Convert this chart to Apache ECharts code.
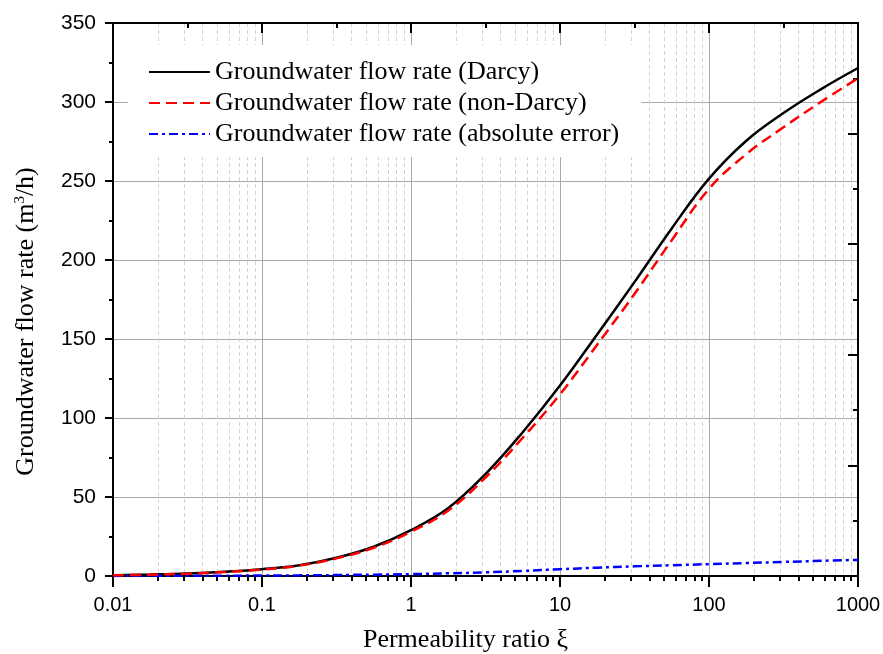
<!DOCTYPE html>
<html>
<head>
<meta charset="utf-8">
<script src="https://cdn.jsdelivr.net/npm/echarts@6/dist/echarts.min.js"></script>
<style>html,body{margin:0;padding:0;background:#fff}#c{width:883px;height:654px}</style>
</head>
<body>
<div id="c"></div>
<script>
// Permeability ratio (x, log scale), quarter-decade samples
const xVals = [0.01,0.0178,0.0316,0.0562,0.1,0.178,0.316,0.562,1,1.78,3.16,5.62,10,17.8,31.6,56.2,100,178,316,562,1000];
// Groundwater flow rate (Darcy), m3/h
const darcy = [0.5,0.95,1.6,2.7,4.3,6.8,11.5,18.5,29,43,64.5,91,120.5,153,186,220,251.5,275.5,293,308,321.5];
// Groundwater flow rate (non-Darcy), m3/h
const nonDarcy = [0.4,0.85,1.45,2.55,4.1,6.55,11.15,17.9,28,41.5,62.3,87.5,115,146.5,178.5,212.5,245,267,284,300,315];
// Groundwater flow rate (absolute error), m3/h
const absError = [0.05,0.08,0.12,0.18,0.3,0.4,0.6,0.85,1.2,1.7,2.3,3.2,4.3,5.3,6.1,6.8,7.5,8.2,8.9,9.6,10.2];

const seriesNames = ['Groundwater flow rate (Darcy)','Groundwater flow rate (non-Darcy)','Groundwater flow rate (absolute error)'];
const xMin = 0.01, xMax = 1000;
const yMin = 0, yMax = 350, yInterval = 50, yRightInterval = 70;
const decades = [0.01,0.1,1,10,100];
const minorMult = [2,3,4,5,6,7,8,9];

const minorX = [];
decades.forEach(d => minorMult.forEach(m => minorX.push(+(d*m).toPrecision(3))));
const halfDecX = decades.map(d => d*Math.sqrt(10));

const serif = 'Liberation Serif';
const sans = 'Liberation Sans';

const chart = echarts.init(document.getElementById('c'), null, {renderer:'canvas'});

function pairs(vals){ return xVals.map((x,i)=>[x, vals[i]]); }

const option = {
  animation: false,
  backgroundColor: '#fff',
  grid: {left: 113, right: 25, top: 23, bottom: 78, containLabel: false, outerBoundsMode: 'none'},
  legend: {
    orient: 'vertical', left: 128, top: 45,
    padding: [14, 22, 10, 20],
    backgroundColor: '#fff',
    itemWidth: 61, itemHeight: 14, itemGap: 5,
    itemStyle: {opacity: 0},
    textStyle: {fontFamily: serif, fontSize: 26, color: '#000', lineHeight: 26},
    data: seriesNames
  },
  xAxis: [
    { type: 'log', logBase: 10, min: xMin, max: xMax, position: 'bottom',
      axisLine: {show: true, lineStyle: {color: '#000', width: 2}},
      axisTick: {show: true, inside: false, length: 11, lineStyle: {color: '#000', width: 2}},
      axisLabel: {fontFamily: sans, fontSize: 20, color: '#000', margin: 19,
        formatter: v => String(+v.toPrecision(3))},
      splitLine: {show: true, lineStyle: {color: '#a9a9a9', width: 1}},
      name: 'Permeability ratio ξ', nameLocation: 'middle', nameGap: 51,
      nameTextStyle: {fontFamily: serif, fontSize: 26, color: '#000', padding: [0, 40, 0, 0]}
    },
    { type: 'log', logBase: 10, min: xMin, max: xMax, position: 'bottom', gridIndex: 0,
      axisLine: {show: false},
      axisTick: {show: true, inside: false, length: 5, customValues: minorX, lineStyle: {color: '#000', width: 2}},
      axisLabel: {show: false},
      splitLine: {show: true, lineStyle: {color: '#d3d3d3', width: 1, type: [4,3]}}
    },
    { type: 'log', logBase: 10, min: xMin, max: xMax, position: 'top', gridIndex: 0,
      axisLine: {show: true, lineStyle: {color: '#000', width: 2}},
      axisTick: {show: true, inside: true, length: 10, lineStyle: {color: '#000', width: 2}},
      axisLabel: {show: false}, splitLine: {show: false}
    },
    { type: 'log', logBase: 10, min: xMin, max: xMax, position: 'top', gridIndex: 0,
      axisLine: {show: false},
      axisTick: {show: true, inside: true, length: 5, customValues: halfDecX, lineStyle: {color: '#000', width: 2}},
      axisLabel: {show: false}, splitLine: {show: false}
    }
  ],
  yAxis: [
    { type: 'value', min: yMin, max: yMax, interval: yInterval, position: 'left',
      axisLine: {show: true, lineStyle: {color: '#000', width: 2}},
      axisTick: {show: true, inside: false, length: 8, lineStyle: {color: '#000', width: 2}},
      minorTick: {show: true, splitNumber: 2, length: 4, lineStyle: {color: '#000', width: 2}},
      axisLabel: {fontFamily: sans, fontSize: 21, color: '#000', margin: 17},
      splitLine: {show: true, lineStyle: {color: '#a9a9a9', width: 1}},
      name: 'Groundwater flow rate (m{sup|3}/h)', nameLocation: 'middle', nameGap: 73, nameRotate: 90,
      nameTextStyle: {fontFamily: serif, fontSize: 26, color: '#000', padding: [0, 44, 0, 0],
        rich: {sup: {fontFamily: serif, fontSize: 15, color: '#000', padding: [0,0,12,0]}}}
    },
    { type: 'value', min: yMin, max: yMax, interval: yRightInterval, position: 'right',
      axisLine: {show: true, lineStyle: {color: '#000', width: 2}},
      axisTick: {show: true, inside: true, length: 10, lineStyle: {color: '#000', width: 2}},
      minorTick: {show: true, splitNumber: 2, length: 5, lineStyle: {color: '#000', width: 2}},
      axisLabel: {show: false}, splitLine: {show: false}
    }
  ],
  series: [
    { name: seriesNames[0], type: 'line', data: pairs(darcy), smooth: 0.4, symbol: 'none',
      xAxisIndex: 0, yAxisIndex: 0, z: 3,
      lineStyle: {color: '#000', width: 2.5, type: 'solid'}, itemStyle: {color: '#000'} },
    { name: seriesNames[1], type: 'line', data: pairs(nonDarcy), smooth: 0.4, symbol: 'none',
      xAxisIndex: 0, yAxisIndex: 0, z: 4,
      lineStyle: {color: '#ff0000', width: 2.5, type: [11,6]}, itemStyle: {color: '#ff0000'} },
    { name: seriesNames[2], type: 'line', data: pairs(absError), smooth: 0.4, symbol: 'none',
      xAxisIndex: 0, yAxisIndex: 0, z: 3,
      lineStyle: {color: '#0000ff', width: 2.5, type: [9,4,3,4]}, itemStyle: {color: '#0000ff'} }
  ]
};
chart.setOption(option);
</script>
</body>
</html>
